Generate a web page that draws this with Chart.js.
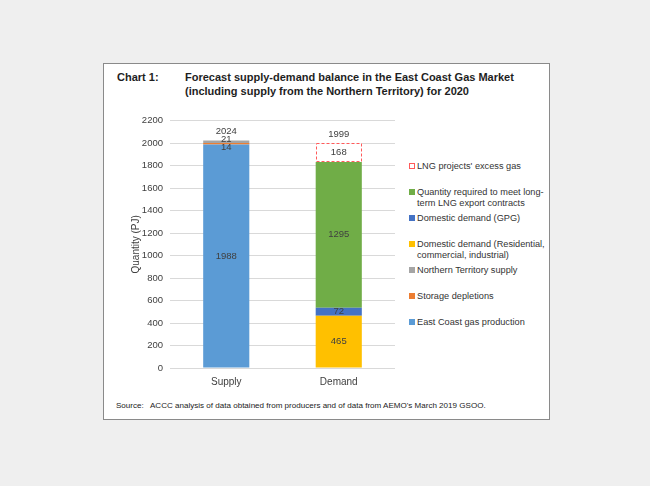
<!DOCTYPE html>
<html>
<head>
<meta charset="utf-8">
<script src="https://cdn.jsdelivr.net/npm/chart.js@4.4.1/dist/chart.umd.min.js"></script>
<style>
  body { margin: 0; background: #efefef; font-family: "Liberation Sans", Arial, sans-serif; }
  #frame { position: absolute; left: 103px; top: 63px; width: 445px; height: 355px;
           background: #fff; border: 1px solid #8a8a8a; }
  .title { position: absolute; top: 70px; font-weight: bold; font-size: 11px; line-height: 14px; color: #1e1e1e; }
  #chart-wrap { position: absolute; left: 112px; top: 108px; width: 290px; height: 290px; }
  #legend { position: absolute; left: 409px; top: 161px; width: 140px; }
  .legend-item { position: relative; height: 26px; padding-left: 8px;
                 font-size: 9.2px; line-height: 10.5px; color: #333; white-space: pre-line; }
  .legend-mark { position: absolute; left: 0; top: 2px; width: 6px; height: 6px; box-sizing: border-box; }
  #source { position: absolute; left: 116px; top: 401px; font-size: 8.05px; color: #222; white-space: pre; }
</style>
</head>
<body>
<div id="frame"></div>
<div class="title" style="left:117px;">Chart 1:</div>
<div class="title" style="left:185px;">Forecast supply-demand balance in the East Coast Gas Market<br>(including supply from the Northern Territory) for 2020</div>
<div id="chart-wrap"><canvas id="chart"></canvas></div>
<div id="legend"></div>
<div id="source">Source:   ACCC analysis of data obtained from producers and of data from AEMO's March 2019 GSOO.</div>

<script>
// ---- data ----
const categories = ['Supply', 'Demand'];
const eastCoastProduction = [1988, null];
const storageDepletions = [14, null];
const ntSupply = [21, null];
const domesticResidential = [null, 465];
const domesticGPG = [null, 72];
const lngContracts = [null, 1295];
const lngExcess = [null, 168];
const totals = [2024, 1999];
const yTicks = [0, 200, 400, 600, 800, 1000, 1200, 1400, 1600, 1800, 2000, 2200];

const seriesLabels = [
  'East Coast gas production',
  'Storage depletions',
  'Northern Territory supply',
  'Domestic demand (Residential,\ncommercial, industrial)',
  'Domestic demand (GPG)',
  'Quantity required to meet long-\nterm LNG export contracts',
  "LNG projects' excess gas"
];
const seriesValues = [eastCoastProduction, storageDepletions, ntSupply,
  domesticResidential, domesticGPG, lngContracts, lngExcess];
const seriesColors = ['#5b9bd5', '#ed7d31', '#a5a5a5', '#ffc000', '#4472c4', '#70ad47', '#ff5a5a'];
const EXCESS = 6;

const datasets = seriesValues.map((vals, i) => ({
  label: seriesLabels[i],
  data: vals,
  backgroundColor: i === EXCESS ? '#ffffff' : seriesColors[i],
  borderWidth: 0,
  barPercentage: 0.41,
  categoryPercentage: 1
}));

// dashed outline for the excess gas segment + value labels
const labelPlugin = {
  id: 'segmentLabels',
  afterDatasetsDraw(chart) {
    const ctx = chart.ctx;
    ctx.save();

    // dashed box
    const exMeta = chart.getDatasetMeta(EXCESS);
    exMeta.data.forEach((bar, i) => {
      if (lngExcess[i] == null) return;
      const half = bar.width / 2;
      ctx.strokeStyle = seriesColors[EXCESS];
      ctx.lineWidth = 1;
      ctx.setLineDash([3, 2]);
      ctx.strokeRect(Math.round(bar.x - half) + 0.5, Math.round(bar.y) + 0.5,
        Math.round(bar.width) - 1, Math.round(bar.base - bar.y) - 1);
    });
    ctx.setLineDash([]);

    ctx.font = '9.5px "Liberation Sans", Arial, sans-serif';
    ctx.fillStyle = '#404040';
    ctx.textAlign = 'center';
    ctx.textBaseline = 'middle';

    categories.forEach((cat, i) => {
      let labels = [];
      let top = Infinity;
      chart.data.datasets.forEach((ds, d) => {
        const v = ds.data[i];
        if (v == null) return;
        const bar = chart.getDatasetMeta(d).data[i];
        labels.push({ text: String(v), x: bar.x, y: (bar.y + bar.base) / 2 });
        top = Math.min(top, bar.y);
      });
      // spread labels that sit on top of each other
      labels.sort((a, b) => b.y - a.y);
      for (let k = 1; k < labels.length; k++) {
        if (labels[k - 1].y - labels[k].y < 8) {
          const mid = (labels[k - 1].y + labels[k].y) / 2 + 0.5;
          labels[k - 1].y = mid + 4;
          labels[k].y = mid - 4;
        }
      }
      labels.forEach(l => ctx.fillText(l.text, l.x, l.y));
      ctx.fillText(String(totals[i]), labels[0].x, top - 9);
    });
    ctx.restore();
  }
};

new Chart(document.getElementById('chart'), {
  type: 'bar',
  data: { labels: categories, datasets: datasets },
  plugins: [labelPlugin],
  options: {
    responsive: true,
    maintainAspectRatio: false,
    animation: false,
    layout: { padding: { top: 7, right: 7, left: 0, bottom: 0 } },
    plugins: {
      legend: { display: false },
      tooltip: { enabled: false }
    },
    scales: {
      x: {
        stacked: true,
        grid: { display: false },
        border: { display: false },
        ticks: { color: '#404040', font: { family: '"Liberation Sans", Arial', size: 10 }, padding: 0 },
        afterFit: s => { s.height = 30; }
      },
      y: {
        stacked: true,
        min: 0,
        max: 2200,
        afterBuildTicks: s => { s.ticks = yTicks.map(v => ({ value: v })); },
        grid: { color: '#d9d9d9', drawTicks: false },
        border: { display: false },
        ticks: {
          color: '#404040',
          font: { family: '"Liberation Sans", Arial', size: 9.5 },
          padding: 7,
          callback: v => String(v)
        },
        title: {
          display: true,
          text: 'Quantity (PJ)',
          color: '#404040',
          font: { family: '"Liberation Sans", Arial', size: 10 },
          padding: { top: 18, bottom: 0 }
        },
        afterFit: s => { s.width = 58; }
      }
    }
  }
});

// legend, top to bottom in reverse stacking order
const legend = document.getElementById('legend');
for (let i = seriesLabels.length - 1; i >= 0; i--) {
  const item = document.createElement('div');
  item.className = 'legend-item';
  const mark = document.createElement('span');
  mark.className = 'legend-mark';
  if (i === EXCESS) {
    mark.style.border = '1px dashed ' + seriesColors[i];
  } else {
    mark.style.background = seriesColors[i];
  }
  item.appendChild(mark);
  item.appendChild(document.createTextNode(seriesLabels[i]));
  legend.appendChild(item);
}
</script>
</body>
</html>
